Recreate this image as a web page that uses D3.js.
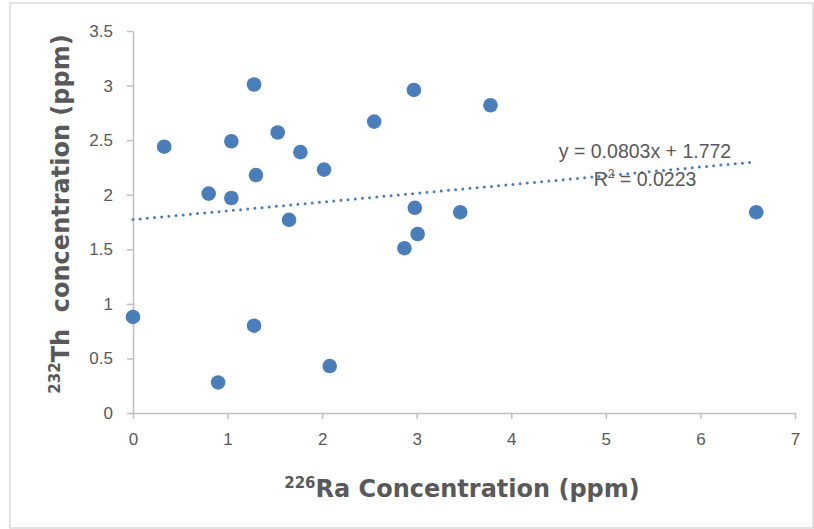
<!DOCTYPE html>
<html>
<head>
<meta charset="utf-8">
<script src="https://cdn.jsdelivr.net/npm/d3@7"></script>
<style>
  body { margin: 0; background: #fff; }
  .tick text { font-family: "Liberation Sans", Arial, sans-serif; font-size: 17px; fill: #595959; }
  .axis path, .axis line { stroke: #bfbfbf; stroke-width: 1.5; }
  .title { font-family: "DejaVu Sans", sans-serif; font-weight: bold; fill: #595959; }
</style>
</head>
<body>
<div id="chart"></div>
<script>
// 226Ra vs 232Th, ppm
var raValues = [0, 0.33, 0.80, 0.90, 1.04, 1.04, 1.28, 1.30, 1.28, 1.53, 1.65,
                1.77, 2.02, 2.08, 2.55, 2.87, 2.97, 2.98, 3.01, 3.46, 3.78, 6.59];
var thValues = [0.88, 2.44, 2.01, 0.28, 2.49, 1.97, 3.01, 2.18, 0.80, 2.57, 1.77,
                2.39, 2.23, 0.43, 2.67, 1.51, 2.96, 1.88, 1.64, 1.84, 2.82, 1.84];
var xTicks = [0, 1, 2, 3, 4, 5, 6, 7];
var yTicks = [0, 0.5, 1, 1.5, 2, 2.5, 3, 3.5];
var slope = 0.0803, intercept = 1.772;
var eqLabel = "y = 0.0803x + 1.772";
var r2Value = "0.0223";

var width = 814, height = 529;
var padding = {left: 133, right: 19, top: 31, bottom: 116};

var svg = d3.select("#chart")
            .append("svg")
              .attr("width", width)
              .attr("height", height);

svg.append("rect")
   .attr("x", 10).attr("y", 3)
   .attr("width", 803).attr("height", 525)
   .attr("fill", "none")
   .attr("stroke", "#d9d9d9")
   .attr("stroke-width", 1.5);

var xScale = d3.scaleLinear()
               .domain([0, 7])
               .range([padding.left, width - padding.right]);

var yScale = d3.scaleLinear()
               .domain([0, 3.5])
               .range([height - padding.bottom, padding.top]);

svg.append("g")
   .attr("class", "axis")
   .attr("transform", "translate(0," + yScale(0) + ")")
   .call(d3.axisBottom(xScale).tickValues(xTicks).tickSize(6).tickSizeOuter(0).tickPadding(14)
           .tickFormat(d3.format("")));

svg.append("g")
   .attr("class", "axis")
   .attr("transform", "translate(" + xScale(0) + ",0)")
   .call(d3.axisLeft(yScale).tickValues(yTicks).tickSize(6).tickSizeOuter(0).tickPadding(14)
           .tickFormat(d3.format("")));

// trendline
var xMax = d3.max(raValues);
svg.append("line")
   .attr("x1", xScale(0))
   .attr("y1", yScale(intercept))
   .attr("x2", xScale(xMax))
   .attr("y2", yScale(slope * xMax + intercept))
   .attr("stroke", "#4a7ebb")
   .attr("stroke-width", 3)
   .attr("stroke-linecap", "round")
   .attr("stroke-dasharray", "0,7.2");

svg.selectAll(".dot")
   .data(d3.zip(raValues, thValues))
   .enter()
   .append("circle")
     .attr("class", "dot")
     .attr("cx", d => xScale(d[0]))
     .attr("cy", d => yScale(d[1]))
     .attr("r", 7.3)
     .attr("fill", "#4a7ebb");

var eq = svg.append("text")
   .attr("x", 645).attr("y", 158)
   .attr("text-anchor", "middle")
   .style("font-family", "Liberation Sans, Arial, sans-serif")
   .style("font-size", "19.5px")
   .style("fill", "#595959");
eq.append("tspan").text(eqLabel);

var r2 = svg.append("text")
   .attr("x", 645).attr("y", 186)
   .attr("text-anchor", "middle")
   .style("font-family", "Liberation Sans, Arial, sans-serif")
   .style("font-size", "19.5px")
   .style("fill", "#595959");
r2.append("tspan").text("R");
r2.append("tspan").attr("dy", -8).style("font-size", "12px").text("2");
r2.append("tspan").attr("dy", 8).text(" = " + r2Value);

// axis titles
var xt = svg.append("text")
   .attr("class", "title")
   .attr("x", 462).attr("y", 497)
   .attr("text-anchor", "middle")
   .style("font-size", "24px");
xt.append("tspan").attr("dy", -9).style("font-size", "15px").text("226");
xt.append("tspan").attr("dy", 9).text("Ra Concentration (ppm)");

var yt = svg.append("text")
   .attr("class", "title")
   .attr("transform", "translate(69,214) rotate(-90)")
   .attr("text-anchor", "middle")
   .style("font-size", "24px");
yt.append("tspan").attr("dy", -9).style("font-size", "15px").text("232");
yt.append("tspan").attr("dy", 9).text("Th\u00a0 concentration (ppm)");
</script>
</body>
</html>
